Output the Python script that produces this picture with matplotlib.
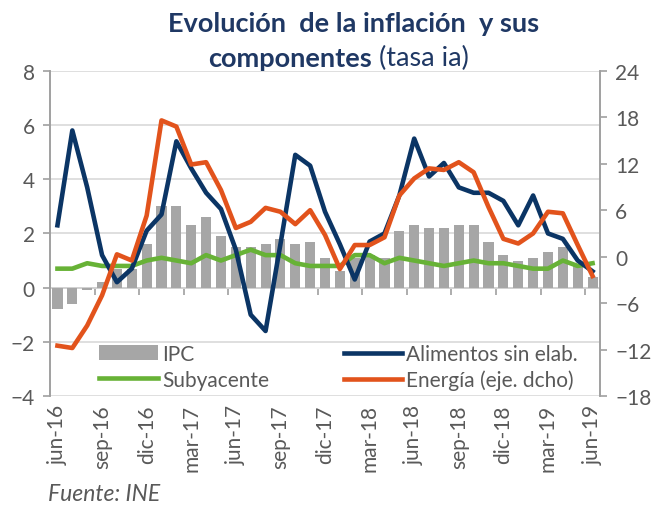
import matplotlib
matplotlib.use("Agg")
import matplotlib.pyplot as plt
import numpy as np

# meses jun-16 .. jun-19
meses = ["jun-16", "jul-16", "ago-16", "sep-16", "oct-16", "nov-16", "dic-16",
         "ene-17", "feb-17", "mar-17", "abr-17", "may-17", "jun-17", "jul-17",
         "ago-17", "sep-17", "oct-17", "nov-17", "dic-17", "ene-18", "feb-18",
         "mar-18", "abr-18", "may-18", "jun-18", "jul-18", "ago-18", "sep-18",
         "oct-18", "nov-18", "dic-18", "ene-19", "feb-19", "mar-19", "abr-19",
         "may-19", "jun-19"]

ipc = [-0.8, -0.6, -0.1, 0.2, 0.7, 0.7, 1.6, 3.0, 3.0, 2.3, 2.6, 1.9, 1.5, 1.5,
       1.6, 1.8, 1.6, 1.7, 1.1, 0.6, 1.1, 1.2, 1.1, 2.1, 2.3, 2.2, 2.2, 2.3,
       2.3, 1.7, 1.2, 1.0, 1.1, 1.3, 1.5, 0.8, 0.4]

subyacente = [0.7, 0.7, 0.9, 0.8, 0.8, 0.8, 1.0, 1.1, 1.0, 0.9, 1.2, 1.0, 1.2, 1.4,
              1.2, 1.2, 0.9, 0.8, 0.8, 0.8, 1.2, 1.2, 0.9, 1.1, 1.0, 0.9, 0.8, 0.9,
              1.0, 0.9, 0.9, 0.8, 0.7, 0.7, 1.0, 0.8, 0.9]

alimentos = [2.3, 5.8, 3.7, 1.2, 0.2, 0.7, 2.1, 2.7, 5.4, 4.4, 3.5, 2.9, 1.4, -1.0,
             -1.6, 1.6, 4.9, 4.5, 2.8, 1.6, 0.3, 1.7, 2.0, 3.4, 5.5, 4.1, 4.6, 3.7,
             3.5, 3.5, 3.2, 2.3, 3.4, 2.0, 1.8, 1.0, 0.6]

energia = [-11.5, -11.8, -8.9, -5.0, 0.3, -0.5, 5.3, 17.6, 16.8, 11.9, 12.2, 8.6,
           3.7, 4.5, 6.3, 5.8, 4.2, 6.0, 2.8, -1.6, 1.5, 1.5, 2.5, 7.9, 10.1, 11.4,
           11.2, 12.2, 10.9, 6.4, 2.3, 1.7, 3.0, 5.8, 5.6, 1.5, -2.5]

etiquetas = ["jun-16", "sep-16", "dic-16", "mar-17", "jun-17", "sep-17", "dic-17",
             "mar-18", "jun-18", "sep-18", "dic-18", "mar-19", "jun-19"]

plt.rcParams['font.family'] = ['Lato', 'DejaVu Sans']

navy = '#0b3565'
naranja = '#e2531c'
verde = '#67b236'
gris_barra = '#a6a6a6'
gris_txt = '#595959'
gris_eje = '#a0a0a0'

x = np.arange(len(meses))

fig = plt.figure(figsize=(6.6, 5.06), dpi=100)
ax = fig.add_axes([0.0758, 0.2154, 0.8333, 0.6426])
ax2 = ax.twinx()

b = ax.bar(x, ipc, width=0.68, color=gris_barra, label='IPC', zorder=2)
l_sub, = ax.plot(x, subyacente, color=verde, lw=3.3, label='Subyacente', zorder=3)
l_ali, = ax.plot(x, alimentos, color=navy, lw=3.3, label='Alimentos sin elab.', zorder=4)
l_ene, = ax2.plot(x, energia, color=naranja, lw=3.3, label='Energía (eje. dcho)')

ax.set_xlim(-0.5, len(meses) - 0.5)
ax.set_ylim(-4, 8)
ax.set_yticks(range(-4, 9, 2))
ax2.set_ylim(-18, 24)
ax2.set_yticks(range(-18, 25, 6))

ax.yaxis.grid(True, color='#d9d9d9', lw=1.2)
ax.set_axisbelow(True)

for a in (ax, ax2):
    a.spines['top'].set_visible(False)
    a.spines['bottom'].set_visible(False)
    a.spines['left'].set_color(gris_eje)
    a.spines['right'].set_color(gris_eje)
    a.spines['left'].set_linewidth(1.2)
    a.spines['right'].set_linewidth(1.2)
    a.tick_params(axis='y', colors=gris_txt, labelsize=15, length=5, width=1.2,
                  direction='out', pad=6)
    a.tick_params(axis='y', color=gris_eje)

# etiquetas del eje x abajo
ax.set_xticks([meses.index(e) for e in etiquetas])
ax.set_xticklabels(etiquetas, rotation=90, color=gris_txt, fontsize=15)
ax.tick_params(axis='x', length=0, pad=6)

# linea de cero con marcas cada trimestre
eje0 = ax.secondary_xaxis(1 / 3)
eje0.set_xticks(np.arange(2.5, len(meses), 3))
eje0.set_xticklabels([])
eje0.tick_params(axis='x', direction='out', length=5, width=1.2, color=gris_eje)
eje0.spines['bottom'].set_color(gris_eje)
eje0.spines['top'].set_color(gris_eje)
eje0.spines['bottom'].set_linewidth(1.2)

leg = ax2.legend([b, l_sub, l_ali, l_ene],
                 ['IPC', 'Subyacente', 'Alimentos sin elab.', 'Energía (eje. dcho)'],
                 ncol=2, loc='lower center', bbox_to_anchor=(0.525, -0.04),
                 frameon=False, fontsize=15, handlelength=2.8, handletextpad=0.2,
                 columnspacing=3.6, labelspacing=0.28, labelcolor=gris_txt)

fig.text(0.2545, 0.952, "Evolución  de la inflación  y sus", ha='left', va='center',
         fontsize=19.5, fontweight='bold', color='#1f3864')
fig.text(0.5636, 0.884, "componentes", ha='right', va='center',
         fontsize=19.5, fontweight='bold', color='#1f3864')
fig.text(0.5636, 0.884, " (tasa ia)", ha='left', va='center',
         fontsize=19.5, color='#1f3864')

fig.text(0.073, 0.022, "Fuente: INE", ha='left', va='center', fontsize=16.5,
         style='italic', color=gris_txt)

fig.savefig('out.png', dpi=100)
